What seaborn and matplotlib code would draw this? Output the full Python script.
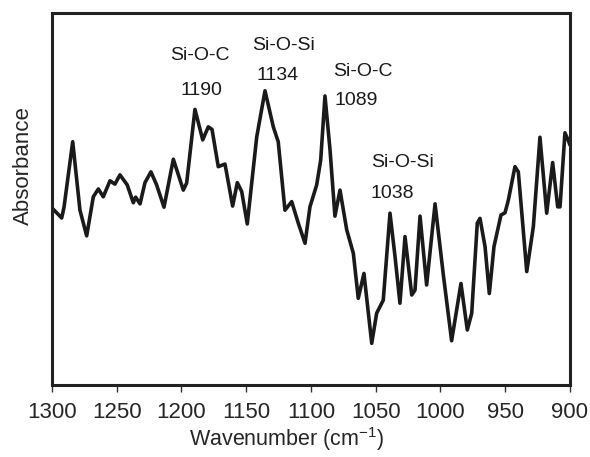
import matplotlib
matplotlib.use('Agg')
import matplotlib.pyplot as plt
import seaborn as sns
import pandas as pd

# FTIR spectrum (absorbance in arbitrary units)
wavenumber = [1300, 1292.5, 1290.7, 1284.0, 1278.4, 1273.2, 1268.1, 1264.2, 1260.4,
              1255.2, 1251.4, 1247.5, 1241.9, 1237.2, 1235.4, 1232.0, 1228.2, 1223.6,
              1219.2, 1213.5, 1206.3, 1198.6, 1196.0, 1189.6, 1183.6, 1179.3, 1176.4,
              1171.6, 1166.4, 1160.5, 1156.9, 1153.5, 1149.2, 1141.9, 1135.5, 1129.1,
              1125.3, 1120.1, 1114.9, 1109.8, 1104.6, 1100.8, 1095.6, 1092.5, 1089.2,
              1085.3, 1081.5, 1077.6, 1072.4, 1067.3, 1063.5, 1059.1, 1053.1, 1049.3,
              1044.2, 1039.0, 1035.1, 1031.3, 1027.4, 1022.2, 1019.7, 1015.8, 1010.7,
              1004.2, 997.8, 991.4, 984.2, 979.3, 975.9, 971.6, 969.5, 965.6, 962.3,
              958.7, 953.3, 950.2, 947.6, 942.5, 939.9, 933.4, 928.3, 923.2, 918.0,
              913.4, 909.5, 907.7, 903.9, 901.5, 900]
absorbance = [0.476, 0.449, 0.478, 0.654, 0.470, 0.401, 0.506, 0.527, 0.506,
              0.549, 0.540, 0.565, 0.538, 0.490, 0.505, 0.487, 0.544, 0.573,
              0.538, 0.478, 0.607, 0.524, 0.543, 0.741, 0.659, 0.694, 0.687,
              0.587, 0.594, 0.481, 0.544, 0.520, 0.433, 0.667, 0.791, 0.694,
              0.654, 0.470, 0.493, 0.435, 0.381, 0.479, 0.538, 0.605, 0.777,
              0.632, 0.454, 0.524, 0.417, 0.354, 0.233, 0.300, 0.112, 0.193,
              0.228, 0.462, 0.345, 0.220, 0.399, 0.242, 0.255, 0.454, 0.269,
              0.487, 0.296, 0.119, 0.273, 0.148, 0.193, 0.435, 0.448, 0.372, 0.246,
              0.372, 0.457, 0.463, 0.497, 0.587, 0.573, 0.305, 0.426, 0.666, 0.462,
              0.598, 0.479, 0.479, 0.678, 0.659, 0.645]

# band labels: bond name and peak position, with where each text sits
band_names = ['Si-O-C', 'Si-O-Si', 'Si-O-C', 'Si-O-Si']
band_values = ['1190', '1134', '1089', '1038']
name_x = [1185.7, 1121.0, 1059.8, 1029.0]
name_y = [0.887, 0.914, 0.842, 0.597]
value_x = [1184.4, 1125.5, 1064.9, 1037.1]
value_y = [0.793, 0.833, 0.766, 0.516]

sns.set_style('white')
plt.rcParams['font.family'] = ['Liberation Sans', 'DejaVu Sans']
plt.rcParams['mathtext.fontset'] = 'custom'
plt.rcParams['mathtext.rm'] = 'Liberation Sans'

df = pd.DataFrame({'wavenumber': wavenumber, 'absorbance': absorbance})

fig = plt.figure(figsize=(5.9, 4.57), dpi=100)
ax = fig.add_axes([0.0881, 0.1575, 0.878, 0.814])

sns.lineplot(data=df, x='wavenumber', y='absorbance', ax=ax, color='#1a1a1a',
             linewidth=2.6, estimator=None, sort=False,
             solid_joinstyle='round', solid_capstyle='round')

ax.set_xlim(1300, 900)
ax.set_ylim(0, 1)
ax.set_xticks(range(1300, 899, -50))
ax.set_yticks([])
ax.tick_params(axis='x', direction='out', length=5, width=1, color='#333333',
               labelsize=16, pad=7, bottom=True)

for s in ax.spines.values():
    s.set_linewidth(2.2)
    s.set_color('#222222')

ax.set_xlabel(r'Wavenumber (cm$^{\mathregular{-1}}$)', fontsize=15.5)
ax.xaxis.set_label_coords(0.454, -0.108)
ax.set_ylabel('Absorbance', fontsize=16)
ax.yaxis.set_label_coords(-0.035, 0.591)

for nm, vl, nx, ny, vx, vy in zip(band_names, band_values, name_x, name_y, value_x, value_y):
    ax.text(nx, ny, nm, ha='center', va='center', fontsize=14, color='#1a1a1a')
    ax.text(vx, vy, vl, ha='center', va='center', fontsize=14, color='#1a1a1a')

fig.savefig('out.png', dpi=100)
